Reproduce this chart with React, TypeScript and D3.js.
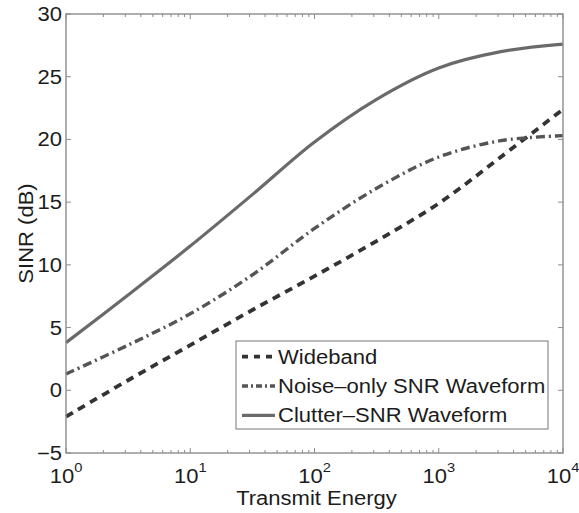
import React from "react";
import * as d3 from "d3";

// transmit energy (x, log scale)
const energy = [1, 3.16, 10, 31.6, 100, 316, 1000, 3162, 10000];
// SINR in dB
const wideband = [-2.1, 0.8, 3.6, 6.4, 9.1, 11.9, 14.9, 18.6, 22.4];
const noiseOnly = [1.3, 3.6, 6.1, 9.2, 12.9, 16.1, 18.6, 19.9, 20.3];
const clutterSnr = [3.8, 7.6, 11.5, 15.6, 19.8, 23.2, 25.7, 27.0, 27.6];

const yTicks = [-5, 0, 5, 10, 15, 20, 25, 30];
const xTicks = [1, 10, 100, 1000, 10000];
const xExponents = ["0", "1", "2", "3", "4"];

const series = [
  { name: "Wideband", values: wideband, color: "#333", width: 3.8, dash: "8,6" },
  { name: "Noise\u2013only SNR Waveform", values: noiseOnly, color: "#555", width: 3.4, dash: "9,4,2,4" },
  { name: "Clutter\u2013SNR Waveform", values: clutterSnr, color: "#6a6a6a", width: 3.2, dash: null },
];

const W = 579;
const H = 513;
const margin = { top: 14, right: 16, bottom: 60, left: 66 };
const SX = 1.13; // glyphs in the scan are a bit wider than tall

function Label(props: {
  x: number;
  y: number;
  anchor?: "start" | "middle" | "end";
  rotate?: number;
  dy?: string;
  size?: number;
  children: React.ReactNode;
}) {
  const { x, y, anchor = "start", rotate = 0, dy, size = 19.5, children } = props;
  return (
    <text
      transform={`translate(${x},${y}) rotate(${rotate}) scale(${SX},1)`}
      textAnchor={anchor}
      dy={dy}
      fontSize={size}
      fill="#1c1c1c"
    >
      {children}
    </text>
  );
}

export default function App() {
  const x0 = margin.left;
  const x1 = W - margin.right;
  const y0 = margin.top;
  const y1 = H - margin.bottom;

  const xScale = d3.scaleLog().domain([1, 10000]).range([x0, x1]);
  const yScale = d3.scaleLinear().domain([-5, 30]).range([y1, y0]);

  const line = d3
    .line<number>()
    .x((d, i) => xScale(energy[i]))
    .y((d) => yScale(d))
    .curve(d3.curveCatmullRom.alpha(0.5));

  // minor ticks for the log axis
  const minor: number[] = [];
  for (let dec = 1; dec < 10000; dec *= 10) {
    for (let k = 2; k <= 9; k++) minor.push(dec * k);
  }

  const axisColor = "#8c8c8c";
  const font = "'Liberation Sans', Arial, Helvetica, sans-serif";

  // legend box
  const lg = { x: 236, y: 341, w: 312, h: 88 };
  const rowH = lg.h / 3;

  return (
    <svg width={W} height={H} style={{ position: "absolute", left: 0, top: 0 }} fontFamily={font}>
      <rect width={W} height={H} fill="#fff" />

      {series.map((s) => (
        <path
          key={s.name}
          d={line(s.values) || ""}
          fill="none"
          stroke={s.color}
          strokeWidth={s.width}
          strokeDasharray={s.dash || undefined}
        />
      ))}

      {/* frame */}
      <rect x={x0} y={y0} width={x1 - x0} height={y1 - y0} fill="none" stroke={axisColor} strokeWidth={1.4} />

      {/* y ticks */}
      {yTicks.map((t) => (
        <g key={"y" + t}>
          <line x1={x0} x2={x0 + 5} y1={yScale(t)} y2={yScale(t)} stroke={axisColor} />
          <line x1={x1} x2={x1 - 5} y1={yScale(t)} y2={yScale(t)} stroke={axisColor} />
          <Label x={x0 - 4} y={yScale(t)} dy="0.36em" anchor="end">
            {t < 0 ? "\u2212" + Math.abs(t) : t}
          </Label>
        </g>
      ))}

      {/* x ticks */}
      {xTicks.map((t, i) => (
        <g key={"x" + t}>
          <line x1={xScale(t)} x2={xScale(t)} y1={y1} y2={y1 - 5} stroke={axisColor} />
          <line x1={xScale(t)} x2={xScale(t)} y1={y0} y2={y0 + 5} stroke={axisColor} />
          <Label x={xScale(t)} y={y1 + 30} anchor="middle">
            <tspan>10</tspan>
            <tspan fontSize={13} dy={-11}>
              {xExponents[i]}
            </tspan>
          </Label>
        </g>
      ))}
      {minor.map((t) => (
        <g key={"m" + t}>
          <line x1={xScale(t)} x2={xScale(t)} y1={y1} y2={y1 - 3} stroke={axisColor} />
          <line x1={xScale(t)} x2={xScale(t)} y1={y0} y2={y0 + 3} stroke={axisColor} />
        </g>
      ))}

      {/* axis labels */}
      <Label x={(x0 + x1) / 2 + 2} y={H - 8} anchor="middle">
        Transmit Energy
      </Label>
      <text
        transform={`translate(33,${(y0 + y1) / 2}) rotate(-90) scale(${SX},1)`}
        textAnchor="middle"
        fontSize={19.5}
        fill="#1c1c1c"
      >
        SINR (dB)
      </text>

      {/* legend */}
      <rect x={lg.x} y={lg.y} width={lg.w} height={lg.h} fill="#fff" stroke={axisColor} strokeWidth={1.2} />
      {series.map((s, i) => {
        const cy = lg.y + rowH * (i + 0.5) + 1;
        return (
          <g key={"lg" + s.name}>
            <line
              x1={lg.x + 6}
              x2={lg.x + 39}
              y1={cy}
              y2={cy}
              stroke={s.color}
              strokeWidth={s.width}
              strokeDasharray={s.dash ? (i === 0 ? "6,6" : "6,3,2,3") : undefined}
            />
            <Label x={lg.x + 42} y={cy} dy="0.36em">
              {s.name}
            </Label>
          </g>
        );
      })}
    </svg>
  );
}
